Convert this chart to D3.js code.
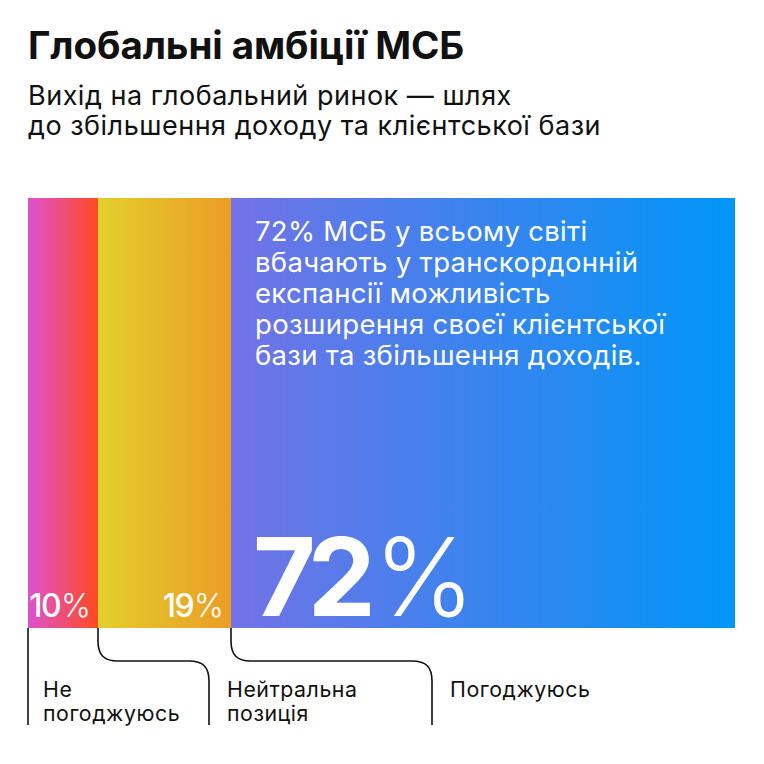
<!DOCTYPE html>
<html>
<head>
<meta charset="utf-8">
<script src="https://cdn.jsdelivr.net/npm/d3@7"></script>
<style>
  html, body { margin: 0; padding: 0; background: #fff; }
  svg { display: block; }
</style>
</head>
<body>
<div id="chart"></div>
<script>
// дані
const categories = ["Не погоджуюсь", "Нейтральна позиція", "Погоджуюсь"];
const labelLines = [["Не", "погоджуюсь"], ["Нейтральна", "позиція"], ["Погоджуюсь"]];
const values = [10, 19, 72];
const valueLabels = ["10", "19", "72"];
const title = "Глобальні амбіції МСБ";
const subtitle = ["Вихід на глобальний ринок — шлях", "до збільшення доходу та клієнтської бази"];
const note = ["72% МСБ у всьому світі", "вбачають у транскордонній", "експансії можливість", "розширення своєї клієнтської", "бази та збільшення доходів."];

// кольори градієнтів
const gradients = [["#dc52d0", "#ff4a20"], ["#e3cf2c", "#eb9d25"], ["#7273e6", "#0096f7"]];

const W = 764, H = 764;
const svg = d3.select("#chart").append("svg").attr("width", W).attr("height", H);

const barTop = 198, barBottom = 628;
const total = d3.sum(values);
const xScale = d3.scaleLinear().domain([0, total]).range([28, 735]);

// накопичені позиції
let acc = 0;
const segs = values.map((v, i) => {
  const s = { i: i, v: v, x0: acc, x1: acc + v };
  acc += v;
  return s;
});

const defs = svg.append("defs");
gradients.forEach((g, i) => {
  const lg = defs.append("linearGradient").attr("id", "g" + i)
    .attr("x1", "0%").attr("x2", "100%").attr("y1", "0%").attr("y2", "0%");
  lg.append("stop").attr("offset", "0%").attr("stop-color", g[0]);
  lg.append("stop").attr("offset", "100%").attr("stop-color", g[1]);
});

// заголовок
svg.append("text")
  .attr("x", 28).attr("y", 59)
  .attr("font-family", "Inter")
  .attr("font-weight", 700)
  .attr("font-size", 38.5)
  .attr("letter-spacing", -0.1)
  .attr("fill", "#111")
  .text(title);

svg.selectAll("text.sub").data(subtitle).enter().append("text")
  .attr("class", "sub")
  .attr("x", 28).attr("y", (d, i) => 105 + i * 30)
  .attr("font-family", "Inter")
  .attr("font-size", 27)
  .attr("letter-spacing", 0.5)
  .attr("fill", "#111")
  .text(d => d);

// смуги
svg.selectAll("rect.seg").data(segs).enter().append("rect")
  .attr("class", "seg")
  .attr("x", d => xScale(d.x0))
  .attr("y", barTop)
  .attr("width", d => xScale(d.x1) - xScale(d.x0))
  .attr("height", barBottom - barTop)
  .attr("fill", d => "url(#g" + d.i + ")");

// малі підписи значень
const small = svg.selectAll("text.val").data(segs.slice(0, 2)).enter().append("text")
  .attr("class", "val")
  .attr("x", d => xScale(d.x1) - 7)
  .attr("y", 617)
  .attr("text-anchor", "end")
  .attr("font-family", "Inter")
  .attr("font-size", 32)
  .attr("fill", "#fff");
small.append("tspan").attr("font-weight", 500).attr("letter-spacing", -1.6).text(d => valueLabels[d.i]);
small.append("tspan").attr("font-weight", 300).attr("dx", 1).text("%");

// велике значення
const big = segs[2];
const bigText = svg.append("text")
  .attr("x", xScale(big.x0) + 22)
  .attr("y", 616)
  .attr("font-family", "Inter")
  .attr("font-size", 108)
  .attr("fill", "#fff");
bigText.append("tspan").attr("font-weight", 700).attr("letter-spacing", -8).text(valueLabels[2]);
bigText.append("tspan").attr("font-weight", 300).attr("dx", 6).text("%");

// пояснення
svg.selectAll("text.note").data(note).enter().append("text")
  .attr("class", "note")
  .attr("x", xScale(big.x0) + 24)
  .attr("y", (d, i) => 241 + i * 31)
  .attr("font-family", "Inter")
  .attr("font-size", 27.5)
  .attr("letter-spacing", 0.3)
  .attr("fill", "#fff")
  .text(d => d);

// виноски
const dropX = [28, 209, 432];
const elbowY = 661, lineEnd = 725, r = 20;
const link = (d, i) => {
  const sx = xScale(d.x0), tx = dropX[i];
  if (Math.abs(sx - tx) < 1) return `M${sx},${barBottom}V${lineEnd}`;
  return `M${sx},${barBottom}V${elbowY - r}` +
    `C${sx},${elbowY - r * 0.3} ${sx + r * 0.3},${elbowY} ${sx + r},${elbowY}` +
    `H${tx - r}` +
    `C${tx - r * 0.3},${elbowY} ${tx},${elbowY + r * 0.3} ${tx},${elbowY + r}` +
    `V${lineEnd}`;
};
svg.selectAll("path.link").data(segs).enter().append("path")
  .attr("class", "link")
  .attr("d", link)
  .attr("fill", "none")
  .attr("stroke", "#111")
  .attr("stroke-width", 1.6);

const lab = svg.selectAll("text.cat").data(segs).enter().append("text")
  .attr("class", "cat")
  .attr("x", (d, i) => dropX[i] + (i === 0 ? 15 : 18))
  .attr("y", 697)
  .attr("font-family", "Inter")
  .attr("font-size", 21.3)
  .attr("letter-spacing", 0.55)
  .attr("fill", "#111");
lab.selectAll("tspan").data(d => labelLines[d.i]).enter().append("tspan")
  .attr("x", function() { return d3.select(this.parentNode).attr("x"); })
  .attr("dy", (d, j) => j === 0 ? 0 : 24)
  .text(d => d);
</script>
</body>
</html>
